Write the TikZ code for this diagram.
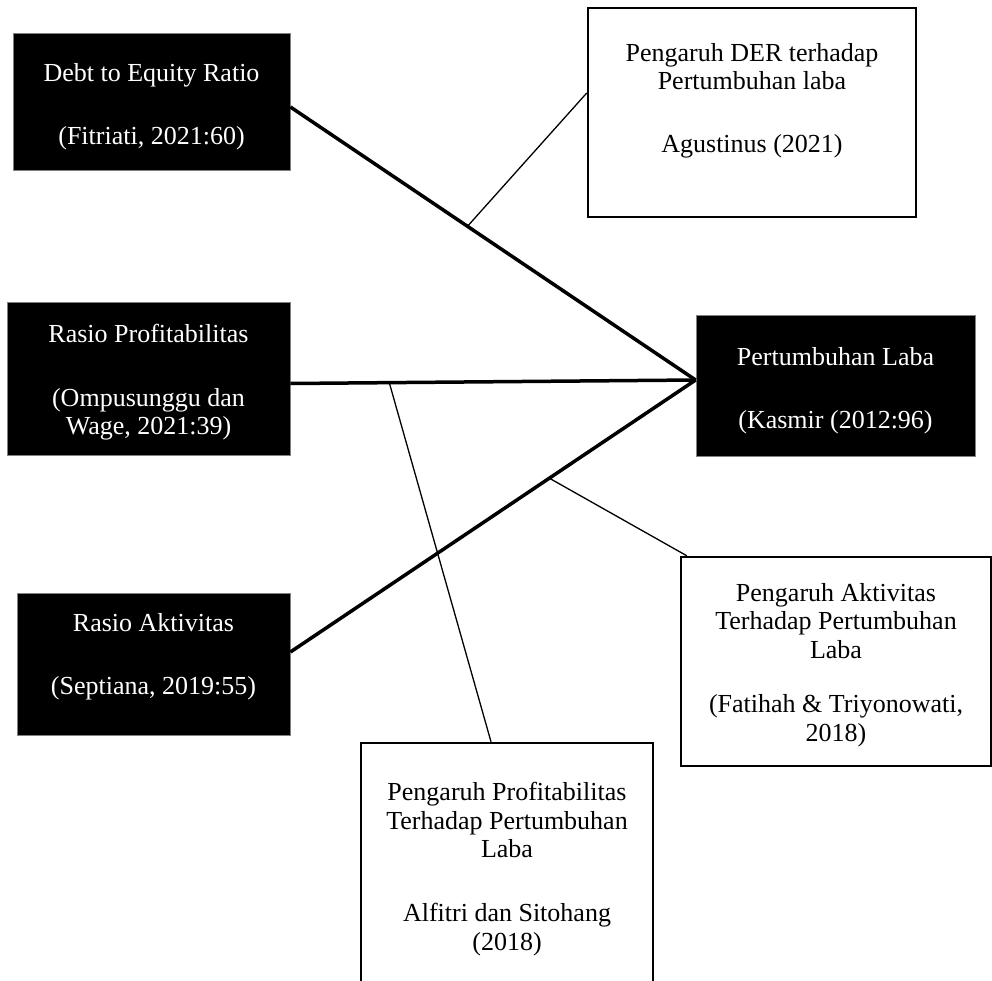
\documentclass[tikz,border=0pt]{standalone}
\usepackage{fontspec}
\setmainfont{Liberation Serif}
\usetikzlibrary{calc}
\tikzset{
  blk/.style={draw=gray, line width=0.8pt, fill=black, inner sep=0pt},
  wht/.style={draw=black, line width=2.5pt, fill=white, inner sep=0pt},
  lbl/.style={inner sep=0pt, anchor=north, align=center, font=\fontsize{26}{28.7}\selectfont},
  wlbl/.style={lbl, text=white},
  thickcon/.style={line width=3.5pt},
  thincon/.style={line width=1.3pt},
}
\begin{document}
\begin{tikzpicture}[x=1pt,y=-1pt]
\useasboundingbox (0,0) rectangle (992,981);
% boxes
\node[blk, minimum width=277pt, minimum height=137pt] (der) at (151.5,101.5) {};
\node[blk, minimum width=283pt, minimum height=153pt] (prof) at (148.5,378.5) {};
\node[blk, minimum width=273pt, minimum height=142pt] (akt) at (153.5,664) {};
\node[blk, minimum width=279pt, minimum height=141pt] (pl) at (835.5,385.5) {};
\node[wht, minimum width=328pt, minimum height=209pt] (derw) at (752,112.5) {};
\node[wht, minimum width=310pt, minimum height=209pt] (aktw) at (836,661.5) {};
\node[wht, minimum width=292pt, minimum height=260pt] (profw) at (507,873) {};
% texts
\node[wlbl] (derT) at (151.5,63) {Debt to Equity Ratio\\[35pt](Fitriati, 2021:60)};
\node[wlbl] (profT) at (148.5,324) {Rasio Profitabilitas\\[35pt](Ompusunggu dan\\Wage, 2021:39)};
\node[wlbl] (aktT) at (153.5,613) {Rasio Aktivitas\\[35pt](Septiana, 2019:55)};
\node[wlbl] (plT) at (835.5,347) {Pertumbuhan Laba\\[35pt](Kasmir (2012:96)};
\node[lbl] (derwT) at (752,43) {Pengaruh DER terhadap\\Pertumbuhan laba\\[34pt]Agustinus (2021)};
\node[lbl] (aktwT) at (836,583) {Pengaruh Aktivitas\\Terhadap Pertumbuhan\\Laba\\[25.5pt](Fatihah \& Triyonowati,\\2018)};
\node[lbl] (profwT) at (507,782) {Pengaruh Profitabilitas\\Terhadap Pertumbuhan\\Laba\\[35pt]Alfitri dan Sitohang\\(2018)};
% connectors
\coordinate (derE) at ([yshift=-5.5pt]der.east);
\coordinate (profE) at ([yshift=-5pt]prof.east);
\coordinate (aktE) at ([yshift=12pt]akt.east);
\coordinate (plW) at ([yshift=5.5pt]pl.west);
\draw[thickcon] (derE) -- (plW);
\draw[thickcon] (profE) -- (plW);
\draw[thickcon] (aktE) -- (plW);
\coordinate (j1) at ($(derE)!0.437!(plW)$);
\coordinate (j2) at ($(profE)!0.244!(plW)$);
\coordinate (j3) at ($(aktE)!0.639!(plW)$);
\draw[thincon] (j1) -- ([yshift=19.5pt]derw.west);
\draw[thincon] (j2) -- ([xshift=-16pt]profw.north);
\draw[thincon] (j3) -- ([xshift=7pt]aktw.north west);
\end{tikzpicture}
\end{document}
